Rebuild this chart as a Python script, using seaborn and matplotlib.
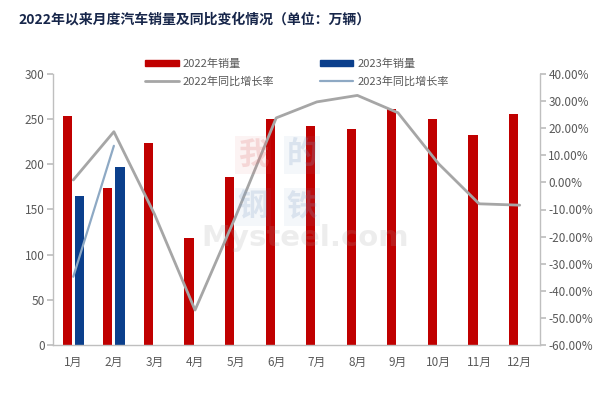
import numpy as np
import pandas as pd
import matplotlib
matplotlib.use("Agg")
import matplotlib.pyplot as plt
from matplotlib.patches import Patch
from matplotlib.lines import Line2D
from matplotlib.ticker import FuncFormatter, MultipleLocator
import seaborn as sns

# ---- data ----
months = ["1月", "2月", "3月", "4月", "5月", "6月", "7月", "8月", "9月", "10月", "11月", "12月"]
sales_2022 = [253.1, 173.7, 223.4, 118.1, 186.2, 250.2, 242.0, 238.6, 261.0, 250.5, 232.7, 255.6]
sales_2023 = [164.9, 197.6]
yoy_2022 = [0.9, 18.7, -11.7, -47.1, -12.6, 23.8, 29.7, 32.1, 25.7, 6.9, -7.9, -8.4]
yoy_2023 = [-34.8, 13.5]
series_names = ["2022年销量", "2023年销量", "2022年同比增长率", "2023年同比增长率"]
title = "2022年以来月度汽车销量及同比变化情况（单位：万辆）"

# ---- style ----
sns.set_theme(style="white")
plt.rcParams["font.family"] = ["Noto Sans CJK SC", "DejaVu Sans"]
plt.rcParams["axes.unicode_minus"] = False

RED = "#C00000"
BLUE = "#0B3F8C"
GRAY = "#A6A6A6"
STEEL = "#8EA9C4"
TXT = "#595959"
AX = "#BFBFBF"

rows = []
for i, m in enumerate(months):
    rows.append({"month": m, "series": series_names[0], "value": sales_2022[i]})
    rows.append({"month": m, "series": series_names[1],
                 "value": sales_2023[i] if i < len(sales_2023) else np.nan})
bars = pd.DataFrame(rows)

fig = plt.figure(figsize=(6.1, 3.99), dpi=100)
ax = fig.add_axes([53 / 610, 1 - 345 / 399, (540 - 53) / 610, (345 - 74) / 399])

sns.barplot(data=bars, x="month", y="value", hue="series", order=months,
            hue_order=series_names[:2], palette=[RED, BLUE],
            width=0.6, gap=0.25, dodge=True, saturation=1, linewidth=0,
            ax=ax, legend=False)
ax.set_xlim(-0.5, len(months) - 0.5)
ax.set_ylim(0, 300)
ax.yaxis.set_major_locator(MultipleLocator(50))
ax.set_xlabel("")
ax.set_ylabel("")

ax2 = ax.twinx()
line22 = pd.DataFrame({"x": np.arange(len(yoy_2022)), "y": yoy_2022})
line23 = pd.DataFrame({"x": np.arange(len(yoy_2023)), "y": yoy_2023})
sns.lineplot(data=line22, x="x", y="y", color=GRAY, lw=2.0, ax=ax2)
sns.lineplot(data=line23, x="x", y="y", color=STEEL, lw=1.6, ax=ax2)
ax2.set_ylim(-60, 40)
ax2.yaxis.set_major_locator(MultipleLocator(10))
ax2.yaxis.set_major_formatter(FuncFormatter(lambda v, p: f"{v:.2f}%"))
ax2.set_xlabel("")
ax2.set_ylabel("")
ax2.set_xlim(-0.5, len(months) - 0.5)

for a in (ax, ax2):
    a.spines["top"].set_visible(False)
    for s in ("left", "right", "bottom"):
        a.spines[s].set_color(AX)
        a.spines[s].set_linewidth(1.0)
    a.grid(False)
ax.spines["right"].set_visible(False)
ax2.spines["left"].set_visible(False)
ax2.spines["bottom"].set_visible(False)

ax.tick_params(axis="y", which="major", left=True, length=4, color=AX,
               labelsize=8.5, labelcolor=TXT, pad=2)
ax.tick_params(axis="x", bottom=False, labelsize=8.5, labelcolor=TXT, pad=2)
ax2.tick_params(axis="y", which="major", right=True, length=4, color=AX,
                labelsize=8.5, labelcolor=TXT, pad=2)

# watermark
fig.text(305 / 610, 1 - 238 / 399, "Mysteel.com", fontsize=21, color="#A0A0A0",
         alpha=0.18, ha="center", va="center", fontweight="bold",
         family=["DejaVu Sans"], zorder=10)
for (cx, cy, ch, col) in [(253, 155, "我", "#E07070"), (302, 155, "的", "#7F9CC4"),
                          (253, 207, "钢", "#7F9CC4"), (302, 207, "铁", "#7F9CC4")]:
    fig.text(cx / 610, 1 - cy / 399, ch, fontsize=22, color=col, alpha=0.22,
             ha="center", va="center", fontweight="bold", zorder=10,
             bbox=dict(boxstyle="square,pad=0.1", fc=col, ec="none", alpha=0.08))

handles = [Patch(color=RED, label=series_names[0]),
           Line2D([0], [0], color=GRAY, lw=2, label=series_names[2]),
           Patch(color=BLUE, label=series_names[1]),
           Line2D([0], [0], color=STEEL, lw=1.6, label=series_names[3])]
leg = fig.legend(handles=handles, ncol=2, loc="center", bbox_to_anchor=(297 / 610, 1 - 72.5 / 399),
                 frameon=False, fontsize=8, handlelength=3.0, handleheight=0.55,
                 columnspacing=4.1, handletextpad=0.35, labelspacing=0.65)
for t in leg.get_texts():
    t.set_color(TXT)

fig.text(18 / 610, 1 - 20 / 399, title, fontsize=10, fontweight="bold",
         color="#17264A", ha="left", va="center")

fig.savefig("out.png", dpi=100)
